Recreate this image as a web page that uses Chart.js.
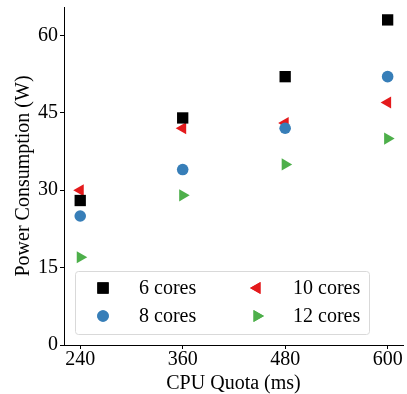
<!DOCTYPE html>
<html>
<head>
<meta charset="utf-8">
<script src="https://cdn.jsdelivr.net/npm/chart.js@4/dist/chart.umd.min.js"></script>
<style>
  body { margin: 0; background: #fff; }
  #wrap { width: 407px; height: 394px; }
</style>
</head>
<body>
<div id="wrap"><canvas id="grafico"></canvas></div>
<script>
const quotas = [240, 360, 480, 600];
const cores6 = [28, 44, 52, 63];
const cores8 = [25, 34, 42, 52];
const cores10 = [30, 42, 43, 47];
const cores12 = [17, 29, 35, 40];
const yTicks = [0, 15, 30, 45, 60];

const fonte = 'Liberation Serif, Times New Roman, serif';

function pontos(valores) {
    return quotas.map((q, i) => ({ x: q, y: valores[i] }));
}

const series = [
    { label: '6 cores', data: pontos(cores6), cor: '#000000', estilo: 'rect', raio: 8, rot: 0 },
    { label: '8 cores', data: pontos(cores8), cor: '#377eb8', estilo: 'circle', raio: 5.8, rot: 0 },
    { label: '10 cores', data: pontos(cores10), cor: '#e41a1c', estilo: 'triangle', raio: 7, rot: -90 },
    { label: '12 cores', data: pontos(cores12), cor: '#4daf4a', estilo: 'triangle', raio: 7, rot: 90 }
];

// legenda desenhada dentro da area do grafico, 2 colunas
const legendaInterna = {
    id: 'legendaInterna',
    afterDraw(chart) {
        const ctx = chart.ctx;
        const area = chart.chartArea;
        const x0 = area.left + 11, y0 = area.bottom - 74;
        const w = 294, h = 63;
        ctx.save();
        ctx.fillStyle = 'rgba(255,255,255,0.8)';
        ctx.strokeStyle = '#d9d9d9';
        ctx.lineWidth = 1;
        ctx.beginPath();
        ctx.roundRect(x0 + 0.5, y0 + 0.5, w, h, 3);
        ctx.fill();
        ctx.stroke();
        ctx.font = '20px ' + fonte;
        ctx.textBaseline = 'middle';
        ctx.textAlign = 'left';
        chart.data.datasets.forEach((ds, i) => {
            const col = Math.floor(i / 2), lin = i % 2;
            const mx = x0 + 28 + col * 154;
            const my = y0 + 17 + lin * 28;
            ctx.fillStyle = ds.backgroundColor;
            Chart.helpers.drawPoint(ctx, {
                pointStyle: ds.pointStyle,
                radius: ds.pointRadius,
                rotation: ds.rotation,
                borderWidth: 0
            }, mx, my);
            ctx.fill();
            ctx.fillStyle = '#000';
            ctx.fillText(ds.label, mx + 36, my + 1);
        });
        ctx.restore();
    }
};

new Chart(document.getElementById('grafico'), {
    type: 'scatter',
    data: {
        datasets: series.map(s => ({
            label: s.label,
            data: s.data,
            backgroundColor: s.cor,
            borderColor: s.cor,
            borderWidth: 0,
            pointStyle: s.estilo,
            pointRadius: s.raio,
            pointHoverRadius: s.raio,
            rotation: s.rot
        }))
    },
    options: {
        responsive: true,
        maintainAspectRatio: false,
        animation: false,
        layout: { autoPadding: false, padding: { top: 7, right: 4, left: 12, bottom: -1 } },
        plugins: {
            legend: { display: false },
            tooltip: { enabled: false }
        },
        scales: {
            x: {
                type: 'linear',
                min: 221,
                max: 618,
                afterBuildTicks: axis => { axis.ticks = quotas.map(v => ({ value: v })); },
                afterFit: axis => { axis.paddingRight = 0; },
                grid: { drawOnChartArea: false, drawTicks: true, tickLength: 4, color: '#000' },
                border: { color: '#000', width: 1 },
                ticks: { color: '#000', font: { family: fonte, size: 20, lineHeight: 1 }, padding: 1, maxRotation: 0 },
                title: { display: true, text: 'CPU Quota (ms)', color: '#000', font: { family: fonte, size: 20, lineHeight: 1.1 }, padding: { top: 2, bottom: 0 } }
            },
            y: {
                min: 0,
                max: 65.5,
                afterBuildTicks: axis => { axis.ticks = yTicks.map(v => ({ value: v })); },
                afterFit: axis => { axis.paddingTop = 0; },
                grid: { drawOnChartArea: false, drawTicks: true, tickLength: 4, color: '#000' },
                border: { color: '#000', width: 1 },
                ticks: { color: '#000', font: { family: fonte, size: 20 }, padding: 2 },
                title: { display: true, text: 'Power Consumption (W)', color: '#000', font: { family: fonte, size: 20 }, padding: { top: 0, bottom: 0 } }
            }
        }
    },
    plugins: [legendaInterna]
});
</script>
</body>
</html>
